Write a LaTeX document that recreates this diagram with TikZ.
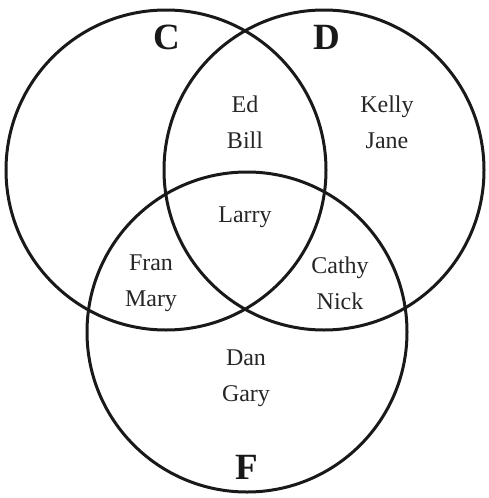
\documentclass[tikz,border=0pt]{standalone}
\usepackage{fontspec}
\setmainfont{Liberation Serif}
\usetikzlibrary{positioning}

\begin{document}
\begin{tikzpicture}[
  x=1pt, y=-1pt,
  setcircle/.style={circle, draw=black!90, line width=3pt, minimum size=320pt, inner sep=0pt},
  setlabel/.style={font=\fontsize{37}{40}\selectfont\bfseries, text=black!90},
  names/.style={align=center, font=\fontsize{24}{36}\selectfont, text=black!85}
]
\useasboundingbox (0,0) rectangle (488,498);

% Mengen
\node (setC) [setcircle] at (166,170) {};
\node (setD) [setcircle] at (324,170) {};
\node (setF) [setcircle] at (247,332) {};

% Beschriftung der Mengen
\node (labC) [setlabel] at (167,37) {C};
\node (labD) [setlabel] at (327,37) {D};
\node (labF) [setlabel] at (247,467) {F};

% Elemente
\node (cd)  [names] at (245,122) {Ed\\Bill};
\node (d)   [names] at (387,122) {Kelly\\Jane};
\node (cdf) [names] at (245,217) {Larry};
\node (cf)  [names] at (151,283) {Fran\\Mary};
\node (df)  [names] at (340,283) {Cathy\\Nick};
\node (f)   [names] at (246,378) {Dan\\Gary};

\end{tikzpicture}
\end{document}
